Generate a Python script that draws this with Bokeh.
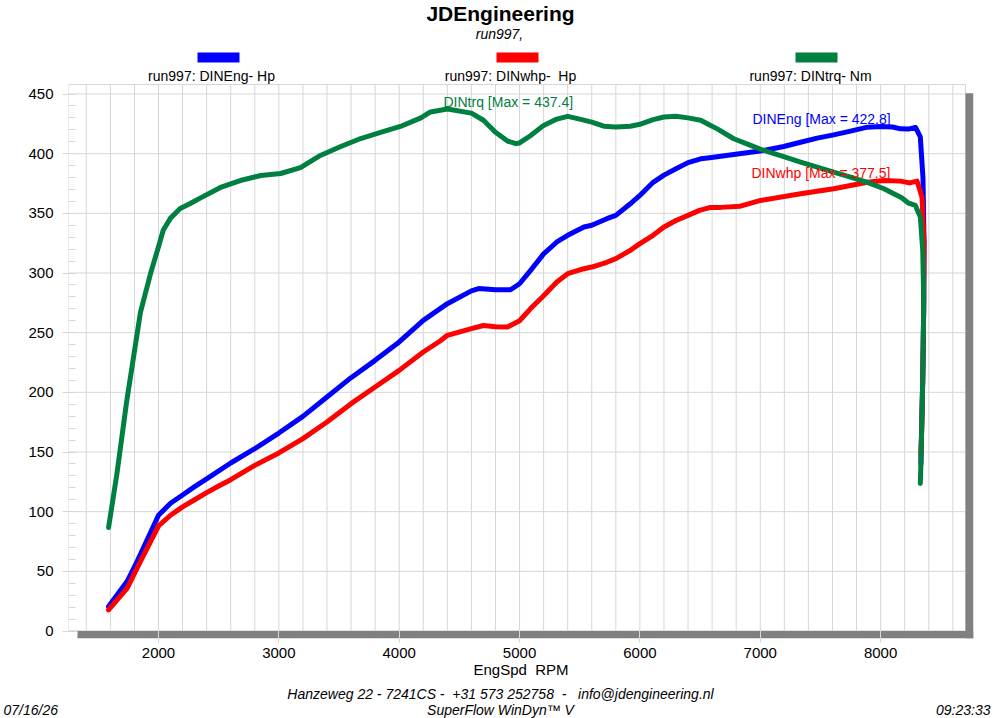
from bokeh.plotting import figure
from bokeh.models import Range1d, FixedTicker, Label
from bokeh.embed import file_html
from bokeh.resources import INLINE

# ---------------- data ----------------
eng_rpm = [1585, 1740, 1823, 2000, 2100, 2200, 2300, 2400, 2600, 2800, 3000, 3200, 3400, 3600, 3800,
           4000, 4200, 4400, 4600, 4660, 4800, 4925, 5000, 5090, 5200, 5310, 5400, 5535, 5600, 5725,
           5800, 5920, 6000, 6110, 6200, 6300, 6400, 6505, 6580, 6780, 7029, 7195, 7335, 7473, 7610,
           7750, 7890, 8000, 8100, 8166, 8230, 8290, 8330, 8352, 8361, 8358, 8350, 8340, 8335]
eng_hp = [20.5, 41.6, 58.4, 97, 107, 114, 121, 127.5, 140.8, 152.8, 165.9, 179.9, 196.1, 212.3, 226.8,
          242.2, 260.3, 274.3, 285, 287, 286, 286, 291, 302, 316, 326, 331.6, 338.6, 340, 345.5,
          348.3, 358, 365, 376, 382, 387.4, 392.5, 395.7, 396.6, 399.3, 402.7, 406, 409.6, 413, 415.8,
          418.9, 422.2, 422.8, 422.4, 420.8, 420.6, 422, 414, 380, 325, 270, 210, 165, 140]

whp_rpm = [1585, 1740, 1850, 2000, 2100, 2200, 2300, 2400, 2500, 2600, 2800, 3000, 3200, 3400, 3600,
           3800, 4000, 4200, 4340, 4400, 4600, 4700, 4800, 4900, 5000, 5090, 5200, 5310, 5400, 5535,
           5600, 5725, 5800, 5920, 6000, 6110, 6200, 6300, 6400, 6495, 6580, 6670, 6835, 7003, 7335,
           7610, 7890, 8028, 8166, 8240, 8303, 8344, 8361, 8358, 8350, 8340, 8335]
whp_hp = [17.7, 36, 58.4, 88, 97, 104, 110, 116, 121.5, 126.8, 138.8, 149.2, 161.2, 175.1, 190.5,
          204.5, 218.4, 233.8, 243, 247.8, 253.4, 256, 255, 254.8, 260, 270, 281, 292.5, 299.4, 303.6,
          305, 309, 312, 319, 324.6, 331.6, 338.6, 344, 348.3, 352.5, 354.8, 355, 356, 360.8, 366.4,
          370.6, 376, 377.5, 377, 375.5, 377, 363.5, 324.7, 270, 210, 165, 148]

trq_rpm = [1585, 1655, 1735, 1850, 1935, 2000, 2040, 2100, 2180, 2260, 2350, 2515, 2680, 2850, 3015,
           3180, 3345, 3515, 3680, 3845, 4010, 4180, 4260, 4400, 4600, 4700, 4800, 4900, 4970, 5000,
           5090, 5200, 5310, 5400, 5500, 5600, 5700, 5800, 5920, 6000, 6110, 6200, 6300, 6400, 6505,
           6580, 6643, 6780, 6920, 7029, 7195, 7335, 7473, 7610, 7750, 7890, 8028, 8175, 8233, 8289,
           8330, 8350, 8358, 8355, 8345, 8335, 8330]
trq_nm = [86.7, 132, 192, 267, 300, 322, 336, 346, 354, 358, 363, 371.7, 377.5, 381.7, 383.4,
          388.4, 398.5, 406, 412.7, 417.8, 422.8, 430, 435, 437.4, 434, 428, 418, 410.6, 408.4, 409,
          415, 423.7, 429, 431.3, 429, 426.5, 423, 422.3, 423, 424.6, 428.5, 430.7, 431.3, 430, 428,
          424, 420.8, 412.5, 406.9, 402.7, 397.6, 392.9, 388.7, 384.5, 380.3, 376, 370.6, 363, 358.5, 356.6,
          347, 319, 280, 241, 185, 140, 123.6]

x_ticks = [2000, 3000, 4000, 5000, 6000, 7000, 8000]
y_ticks = [0, 50, 100, 150, 200, 250, 300, 350, 400, 450]
y_minor = list(range(0, 460, 10))
x_grid = list(range(1400, 8601, 200))

NB = "\u00a0"
series_labels = ["run997: DINEng- Hp", "run997: DINwhp- " + NB + "Hp", "run997: DINtrq- Nm"]
max_labels = ["DINEng [Max = 422.8]", "DINwhp [Max = 377.5]", "DINtrq [Max = 437.4]"]
x_label = "EngSpd " + NB + "RPM"
footer_lines = ["Hanzeweg 22 - 7241CS - " + NB + "+31 573 252758 " + NB + "- " + NB + NB + "info@jdengineering.nl",
                "SuperFlow WinDyn\u2122 V"]
footer_date = "07/16/26"
footer_time = "09:23:33"

BLUE, RED, GREEN = "#0000ff", "#ff0000", "#008040"
GRID = "#d6d6d6"
SHADOW = "#808080"
FONT = "Liberation Sans"

# ---------------- geometry (pixels) ----------------
W, H = 1000, 718
MAIN_H = 684
FL, FR, FT, FB = 68, 973, 0, 638          # frame edges (includes shadow + header)
PX_RPM = 0.12035                          # px per rpm
PX_UNIT = 1.1933                          # px per unit
ZERO_PY = 630.5
X2000_PX = 158
X0 = 2000 - (X2000_PX - FL) / PX_RPM
X1 = X0 + (FR - FL) / PX_RPM
Y0 = -(FB - ZERO_PY) / PX_UNIT
Y1 = (ZERO_PY - FT) / PX_UNIT


def dx(px):
    return X0 + (px - FL) / PX_RPM


def dy(py):
    return (ZERO_PY - py) / PX_UNIT


GX1 = dx(965)     # right edge of plotting area
GY1 = dy(84)      # top edge of plotting area

p = figure(width=W, height=MAIN_H, x_range=Range1d(X0, X1), y_range=Range1d(Y0, Y1),
           output_backend="svg", toolbar_location=None,
           min_border_left=FL, min_border_right=W - FR, min_border_top=FT, min_border_bottom=MAIN_H - FB)
p.outline_line_color = None
p.xgrid.visible = False
p.ygrid.visible = False
p.background_fill_color = "white"
p.border_fill_color = "white"

# grid
p.segment(x0=x_grid, x1=x_grid, y0=[0] * len(x_grid), y1=[GY1] * len(x_grid), line_color=GRID, line_width=1)
p.segment(x0=[X0] * len(y_ticks), x1=[GX1] * len(y_ticks), y0=y_ticks, y1=y_ticks, line_color=GRID, line_width=1)
p.quad(left=[X0], right=[GX1], bottom=[0], top=[GY1], fill_color=None, line_color=GRID, line_width=1)

# drop shadow
p.quad(left=[dx(77), GX1], right=[X1, X1], bottom=[Y0, Y0], top=[0, dy(92.7)],
       fill_color=SHADOW, line_color=None)

# curves
for xs, ys, c in [(eng_rpm, eng_hp, BLUE), (whp_rpm, whp_hp, RED), (trq_rpm, trq_nm, GREEN)]:
    p.line(xs, ys, line_color=c, line_width=5, line_join="round", line_cap="round")

# legend swatches above the plot
sw_left = [197, 496, 795]
p.quad(left=[dx(v) for v in sw_left], right=[dx(v + 42) for v in sw_left],
       bottom=[dy(62)] * 3, top=[dy(52)] * 3, fill_color=[BLUE, RED, GREEN], line_color=None)
for cx, t in zip([211, 510, 810], series_labels):
    p.add_layout(Label(x=dx(cx), y=dy(75), text=t, text_align="center", text_baseline="middle",
                       text_font=FONT, text_font_size="14px", text_color="#000000"))

# max annotations
for (lx, ly), t, c in zip([(752, 118), (751, 172), (443, 101)], max_labels, [BLUE, RED, GREEN]):
    p.add_layout(Label(x=dx(lx), y=dy(ly), text=t, text_align="left", text_baseline="middle",
                       text_font=FONT, text_font_size="14px", text_color=c))

# titles
p.add_layout(Label(x=dx(500), y=dy(13), text="JDEngineering", text_align="center", text_baseline="middle",
                   text_font=FONT, text_font_size="21px", text_font_style="bold", text_color="#000000"))
p.add_layout(Label(x=dx(499), y=dy(33), text="run997,", text_align="center", text_baseline="middle",
                   text_font=FONT, text_font_size="14px", text_font_style="italic", text_color="#000000"))

# axes
p.xaxis.ticker = FixedTicker(ticks=x_ticks)
p.yaxis.ticker = FixedTicker(ticks=y_ticks, minor_ticks=y_minor)
for ax in (p.xaxis[0], p.yaxis[0]):
    ax.axis_line_color = None
    ax.major_tick_line_color = GRID
    ax.major_label_text_font = FONT
    ax.major_label_text_font_size = "15px"
    ax.major_label_text_color = "#000000"
p.xaxis.major_tick_in = 9
p.xaxis.major_tick_out = 4
p.xaxis.minor_tick_line_color = None
p.xaxis.major_label_standoff = 5
p.xaxis.axis_label = x_label
p.xaxis.axis_label_text_font = FONT
p.xaxis.axis_label_text_font_style = "normal"
p.xaxis.axis_label_text_font_size = "15px"
p.xaxis.axis_label_text_color = "#000000"
p.xaxis.axis_label_standoff = 0
p.yaxis.major_tick_in = 0
p.yaxis.major_tick_out = 6
p.yaxis.minor_tick_in = 7
p.yaxis.minor_tick_out = 0
p.yaxis.minor_tick_line_color = GRID
p.yaxis.major_label_standoff = 9

# ---------------- footer strip (page pixel coordinates, separate root) ----------------
f = figure(width=W, height=H - MAIN_H, x_range=Range1d(0, W), y_range=Range1d(H, MAIN_H),
           x_axis_type=None, y_axis_type=None, output_backend="svg", toolbar_location=None,
           min_border=0)
f.outline_line_color = None
f.xgrid.visible = False
f.ygrid.visible = False
f.background_fill_color = "white"
f.border_fill_color = "white"
footer = [
    (footer_lines[0], 500, 693, "center"),
    (footer_lines[1], 500, 709, "center"),
    (footer_date, 3, 709, "left"),
    (footer_time, 990, 709, "right"),
]
for t, sx, sy, al in footer:
    f.add_layout(Label(x=sx, y=sy, text=t, text_align=al, text_baseline="middle", text_font=FONT,
                       text_font_size="14px", text_font_style="italic", text_color="#000000"))

open("out.html", "w").write(file_html([p, f], INLINE))
